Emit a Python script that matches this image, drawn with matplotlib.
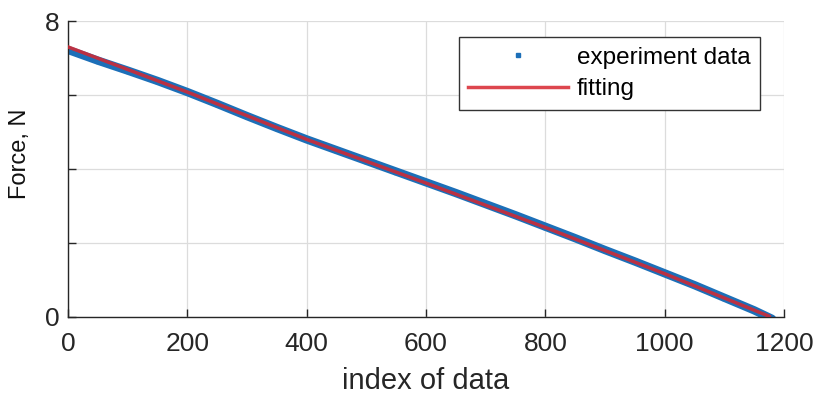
import matplotlib
matplotlib.use("Agg")
import matplotlib.pyplot as plt

# experiment data, every 50 samples
exp_idx = [0, 50, 100, 150, 200, 250, 300, 350, 400, 450, 500, 550, 600,
           650, 700, 750, 800, 850, 900, 950, 1000, 1050, 1100, 1150, 1180]
exp_force = [7.22, 6.93, 6.66, 6.38, 6.08, 5.76, 5.43, 5.11, 4.80, 4.51, 4.22,
             3.93, 3.64, 3.35, 3.05, 2.75, 2.44, 2.13, 1.81, 1.50, 1.18, 0.86,
             0.52, 0.18, -0.05]

# fitted curve
fit_idx = [0, 200, 400, 600, 800, 1000, 1175]
fit_force = [7.30, 6.08, 4.80, 3.62, 2.42, 1.17, 0.02]

x_ticks = [0, 200, 400, 600, 800, 1000, 1200]
y_ticks = [0, 2, 4, 6, 8]
y_ticklabels = ["0", "", "", "", "8"]

plt.rcParams["font.family"] = ["Liberation Sans", "DejaVu Sans"]

fig = plt.figure(figsize=(8.16, 4.01), dpi=100)
ax = fig.add_axes([0.0833, 0.2095, 0.8775, 0.7381])

blue = "#1c6fb8"
red = "#d7262f"

# dense data band + marker handle for the legend
ax.plot(exp_idx, exp_force, color=blue, lw=6, solid_capstyle="round", zorder=2)
ax.plot(exp_idx, exp_force, ls="none", marker="s", ms=3, color=blue,
        label="experiment data", zorder=2)
ax.plot(fit_idx, fit_force, color=red, lw=2.5, alpha=0.85, label="fitting", zorder=3)

ax.set_xlim(0, 1200)
ax.set_ylim(0, 8)
ax.set_xticks(x_ticks)
ax.set_yticks(y_ticks)
ax.set_yticklabels(y_ticklabels)
ax.grid(True, color="#dcdcdc", lw=0.9)
ax.set_axisbelow(True)
for s in ("top", "right"):
    ax.spines[s].set_visible(False)
for s in ("left", "bottom"):
    ax.spines[s].set_color("#262626")
    ax.spines[s].set_linewidth(1.0)
ax.tick_params(direction="in", length=6, width=1, colors="#262626",
               labelsize=19, pad=6)
ax.tick_params(axis="x", pad=11)

ax.set_xlabel("index of data", fontsize=21, color="#262626", labelpad=8)
ax.set_ylabel("Force, N", fontsize=17, color="#111111")
ax.yaxis.set_label_coords(-0.052, 0.55)

leg = ax.legend(loc="upper right", bbox_to_anchor=(760 / 816, 1 - 37 / 401),
                bbox_transform=fig.transFigure, fontsize=17.5, fancybox=False,
                framealpha=1, edgecolor="#333333", borderaxespad=0,
                handlelength=4.1, handletextpad=0.35, borderpad=0.4,
                labelspacing=0.4, markerscale=1.0)
leg.get_frame().set_linewidth(1.0)

fig.savefig("out.png", dpi=100)
